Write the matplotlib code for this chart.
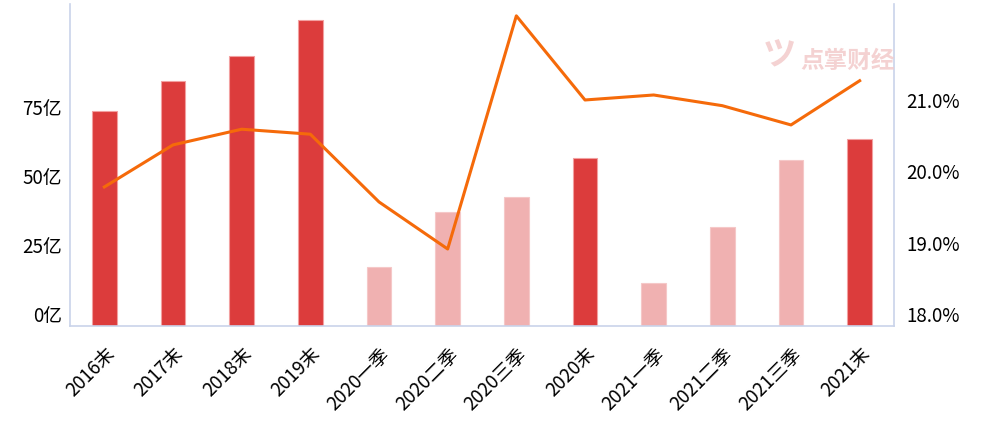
import matplotlib
matplotlib.use("Agg")
import matplotlib.pyplot as plt
import numpy as np

plt.rcParams['font.family'] = ['Noto Sans CJK SC', 'DejaVu Sans']

categories = ["2016末", "2017末", "2018末", "2019末", "2020一季", "2020二季", "2020三季",
              "2020末", "2021一季", "2021二季", "2021三季", "2021末"]
bar_values = [77.9, 88.9, 97.8, 110.9, 21.4, 41.3, 46.7, 60.9, 15.6, 35.9, 60.1, 67.8]
is_year_end = [True, True, True, True, False, False, False, True, False, False, False, True]
line_values = [19.95, 20.54, 20.76, 20.69, 19.74, 19.08, 22.35, 21.17, 21.24, 21.09, 20.82, 21.44]
left_ticks = [0, 25, 50, 75]
left_labels = ["0亿", "25亿", "50亿", "75亿"]
right_ticks = [18.0, 19.0, 20.0, 21.0]
right_labels = ["18.0%", "19.0%", "20.0%", "21.0%"]

dark = "#DC3C3C"
light = "#F0B1B1"
orange = "#F56A0A"
axis_col = "#C9D3EA"

W, H = 991, 427
fig = plt.figure(figsize=(W / 100, H / 100), dpi=100)
left, right, bottom, top = 70, 894, 327, 5
ax = fig.add_axes([left / W, 1 - bottom / H, (right - left) / W, (bottom - top) / H])
ax2 = ax.twinx()

x = np.arange(len(categories))
colors = [dark if e else light for e in is_year_end]
ax.bar(x, bar_values, width=0.36, color=colors,
       edgecolor=["#F2A0A0" if e else "#F5C8C8" for e in is_year_end], linewidth=0.8, zorder=2)
ax.set_xlim(-0.5, len(categories) - 0.5)
ax.set_ylim(0, 322 / 69 * 25)
ax2.set_ylim(18.0, 18.0 + 322 / 71.3)
ax2.plot(x, line_values, color=orange, linewidth=2.2, zorder=3)

ax.set_yticks(left_ticks)
ax.set_yticklabels(left_labels, fontsize=13.5, va='bottom')
ax2.set_yticks(right_ticks)
ax2.set_yticklabels(right_labels, fontsize=13.5, va='bottom')
ax.tick_params(axis='y', length=0, pad=6)
ax2.tick_params(axis='y', length=0, pad=9)

ax.set_xticks(x)
ax.set_xticklabels(categories, rotation=45, ha='right', rotation_mode='anchor', fontsize=13.5)
ax.tick_params(axis='x', length=0, pad=12)

for a in (ax, ax2):
    for s in a.spines.values():
        s.set_visible(False)
ax.spines['left'].set_visible(True)
ax.spines['left'].set_color(axis_col)
ax.spines['bottom'].set_visible(True)
ax.spines['bottom'].set_color(axis_col)
ax2.spines['right'].set_visible(True)
ax2.spines['right'].set_color(axis_col)
for s in ('left', 'bottom'):
    ax.spines[s].set_linewidth(1.2)
ax2.spines['right'].set_linewidth(1.2)

# watermark
fig.text(800 / W, 1 - 61 / H, "点掌财经", fontsize=17, color="#F3CACA", alpha=0.85,
         ha='left', va='center', fontweight='bold', zorder=0)
fig.text(779 / W, 1 - 56 / H, "ツ", fontsize=24, color="#F3CACA", alpha=0.85,
         ha='center', va='center', fontweight='bold', zorder=0)

fig.savefig("out.png", dpi=100)
